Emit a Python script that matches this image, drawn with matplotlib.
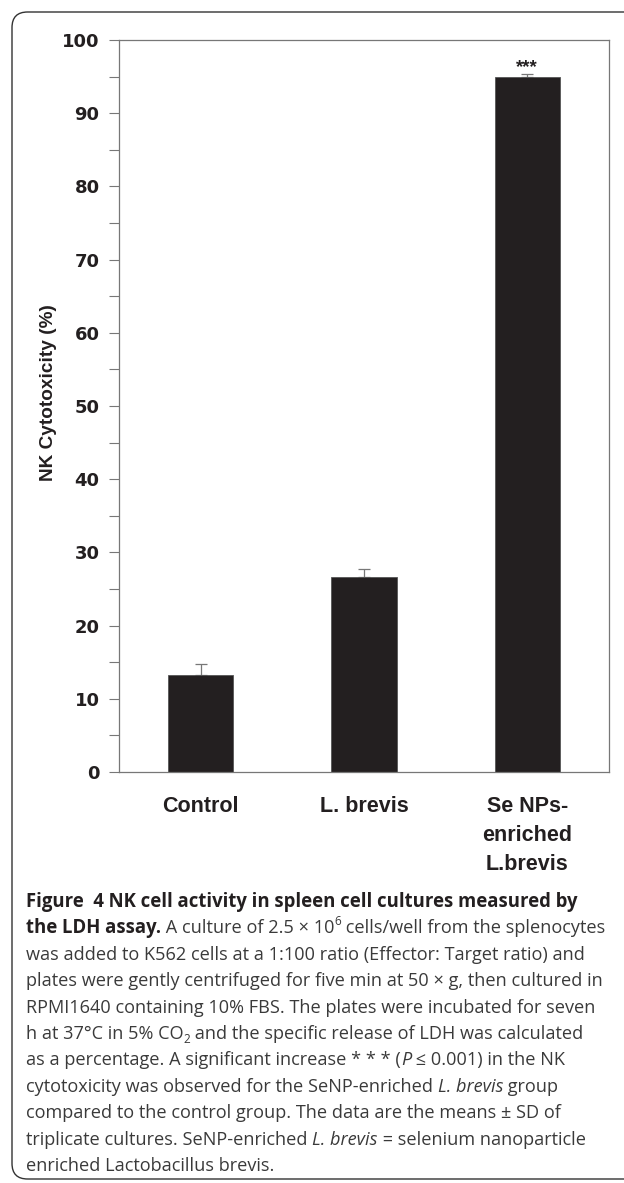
import matplotlib
matplotlib.use("Agg")
import matplotlib.pyplot as plt
from matplotlib.patches import FancyBboxPatch

# data
groups = ["Control", "L. brevis", "Se NPs-\nenriched\nL.brevis"]
cytotox = [13.25, 26.6, 95.0]
sd_upper = [1.5, 1.1, 0.3]
signif = ["", "", "***"]

fig = plt.figure(figsize=(6.24, 11.83), dpi=100)
W, H = 624, 1183

# rounded frame round the panel
frame = FancyBboxPatch((12 / W, 4 / H), 700 / W, 1167 / H,
                       boxstyle="round,pad=0,rounding_size=0.025",
                       transform=fig.transFigure, fill=False,
                       edgecolor="#333333", linewidth=1.0, mutation_aspect=W / H)
fig.patches.append(frame)

ax = fig.add_axes([119 / W, 1 - 772 / H, 490 / W, 732 / H])
x = range(len(groups))
ax.bar(x, cytotox, width=0.4, color="#231f20", edgecolor="#555555", linewidth=0.6, zorder=2)
ax.errorbar(x, cytotox, yerr=[[0] * 3, sd_upper], fmt="none", ecolor="#777777",
            elinewidth=0.9, capsize=4, capthick=0.9, zorder=1)
for i, s in enumerate(signif):
    if s:
        ax.text(i, cytotox[i] + sd_upper[i] - 0.2, s, ha="center", va="bottom",
                fontsize=13.5, fontweight="bold", family="Liberation Sans", color="#231f20")

ax.set_xlim(-0.5, 2.5)
ax.set_ylim(0, 100)
ax.set_yticks(range(0, 101, 10))
ax.set_yticks(range(5, 100, 10), minor=True)
ax.tick_params(axis="y", which="both", direction="out", length=7, width=0.8,
               color="#777777", labelsize=13, pad=7)
for lab in ax.get_yticklabels():
    lab.set_fontweight("bold")
    lab.set_family("DejaVu Sans")
    lab.set_color("#231f20")
ax.set_xticks(list(x))
ax.set_xticklabels(groups, fontsize=15.5, fontweight="bold", family="Liberation Sans",
                   linespacing=1.5, color="#231f20")
ax.tick_params(axis="x", length=0, pad=17)
for sp in ax.spines.values():
    sp.set_color("#777777")
    sp.set_linewidth(0.9)
ax.set_ylabel("NK Cytotoxicity (%)", fontsize=13.7, fontweight="bold",
              family="Liberation Sans", color="#231f20", va="center")
ax.yaxis.set_label_coords(-0.143, 0.518)

# caption, drawn span by span
cap_font = "Open Sans"
cap_size = 13.1
lines = [
    [("Figure  4 NK cell activity in spleen cell cultures measured by", "b")],
    [("the LDH assay.", "b"), (" A culture of 2.5 × 10", "n"), ("6", "sup"),
     (" cells/well from the splenocytes", "n")],
    [("was added to K562 cells at a 1:100 ratio (Effector: Target ratio) and", "n")],
    [("plates were gently centrifuged for five min at 50 × g, then cultured in", "n")],
    [("RPMI1640 containing 10% FBS. The plates were incubated for seven", "n")],
    [("h at 37°C in 5% CO", "n"), ("2", "sub"),
     (" and the specific release of LDH was calculated", "n")],
    [("as a percentage. A significant increase * * * (", "n"), ("P", "i"),
     (" ≤ 0.001) in the NK", "n")],
    [("cytotoxicity was observed for the SeNP-enriched ", "n"), ("L. brevis", "i"),
     (" group", "n")],
    [("compared to the control group. The data are the means ± SD of", "n")],
    [("triplicate cultures. SeNP-enriched ", "n"), ("L. brevis", "i"),
     (" = selenium nanoparticle", "n")],
    [("enriched Lactobacillus brevis.", "n")],
]

renderer = fig.canvas.get_renderer()
y0 = 907
step = 26.4
for k, spans in enumerate(lines):
    xp = 26
    yb = y0 + k * step
    for txt, style in spans:
        kw = dict(family=cap_font, fontsize=cap_size, color="#3a3a3a")
        dy = 0
        if style == "b":
            kw.update(fontweight="bold", color="#231f20", fontsize=cap_size * 1.02)
        elif style == "i":
            kw.update(fontstyle="italic")
        elif style == "sup":
            kw.update(fontsize=cap_size * 0.65)
            dy = -8
        elif style == "sub":
            kw.update(fontsize=cap_size * 0.65)
            dy = 4
        t = fig.text(xp / W, 1 - (yb + dy) / H, txt, ha="left", va="baseline", **kw)
        xp += t.get_window_extent(renderer).width

fig.savefig("out.png", dpi=100)
